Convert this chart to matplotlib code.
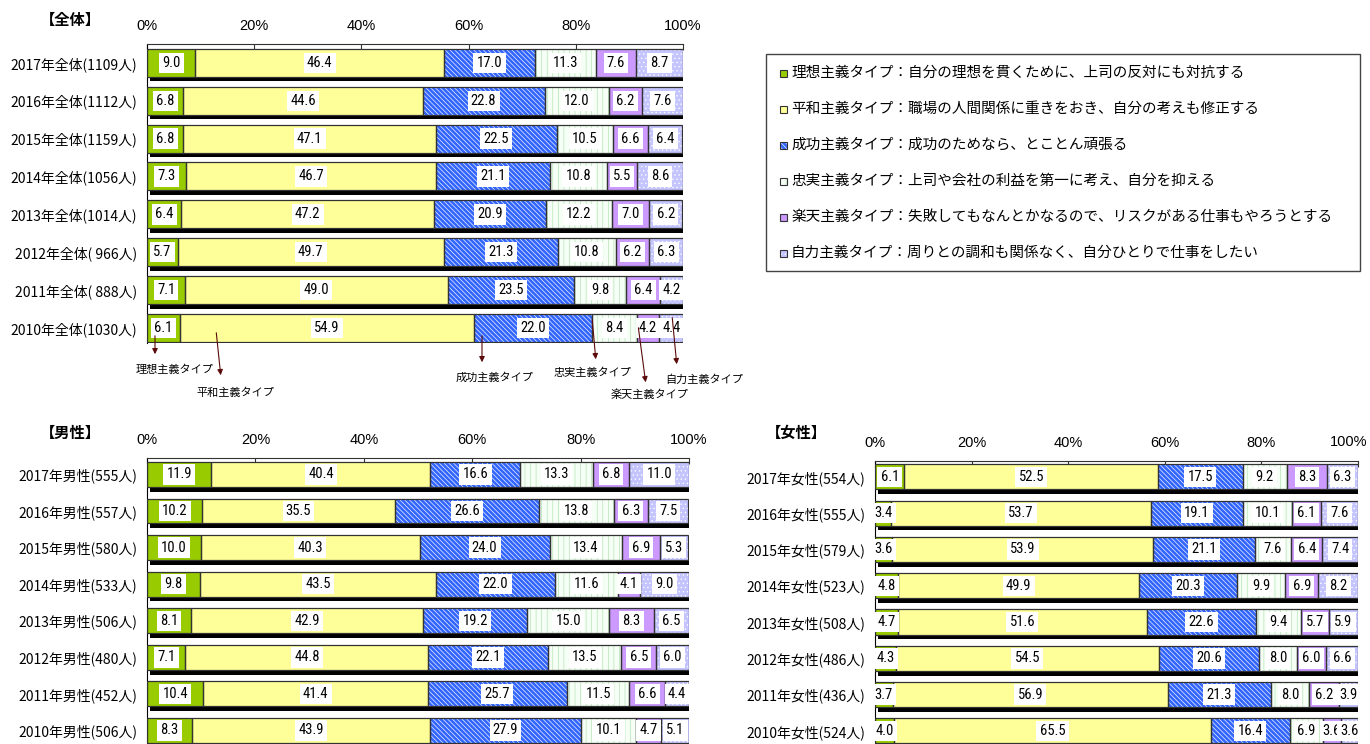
import matplotlib
matplotlib.use('Agg')
import matplotlib.pyplot as plt
from matplotlib.patches import Rectangle, FancyArrowPatch
from matplotlib import font_manager
import numpy as np

plt.rcParams['font.family'] = ['Noto Sans CJK JP', 'DejaVu Sans']
plt.rcParams['hatch.linewidth'] = 0.45

# ---------------- data ----------------
types = ['理想主義タイプ', '平和主義タイプ', '成功主義タイプ', '忠実主義タイプ', '楽天主義タイプ', '自力主義タイプ']
descs = ['自分の理想を貫くために、上司の反対にも対抗する',
         '職場の人間関係に重きをおき、自分の考えも修正する',
         '成功のためなら、とことん頑張る',
         '上司や会社の利益を第一に考え、自分を抑える',
         '失敗してもなんとかなるので、リスクがある仕事もやろうとする',
         '周りとの調和も関係なく、自分ひとりで仕事をしたい']

all_labels = ['2017年全体(1109人)', '2016年全体(1112人)', '2015年全体(1159人)', '2014年全体(1056人)',
              '2013年全体(1014人)', '2012年全体( 966人)', '2011年全体( 888人)', '2010年全体(1030人)']
all_risou = [9.0, 6.8, 6.8, 7.3, 6.4, 5.7, 7.1, 6.1]
all_heiwa = [46.4, 44.6, 47.1, 46.7, 47.2, 49.7, 49.0, 54.9]
all_seikou = [17.0, 22.8, 22.5, 21.1, 20.9, 21.3, 23.5, 22.0]
all_chujitsu = [11.3, 12.0, 10.5, 10.8, 12.2, 10.8, 9.8, 8.4]
all_rakuten = [7.6, 6.2, 6.6, 5.5, 7.0, 6.2, 6.4, 4.2]
all_jiriki = [8.7, 7.6, 6.4, 8.6, 6.2, 6.3, 4.2, 4.4]

male_labels = ['2017年男性(555人)', '2016年男性(557人)', '2015年男性(580人)', '2014年男性(533人)',
               '2013年男性(506人)', '2012年男性(480人)', '2011年男性(452人)', '2010年男性(506人)']
male_risou = [11.9, 10.2, 10.0, 9.8, 8.1, 7.1, 10.4, 8.3]
male_heiwa = [40.4, 35.5, 40.3, 43.5, 42.9, 44.8, 41.4, 43.9]
male_seikou = [16.6, 26.6, 24.0, 22.0, 19.2, 22.1, 25.7, 27.9]
male_chujitsu = [13.3, 13.8, 13.4, 11.6, 15.0, 13.5, 11.5, 10.1]
male_rakuten = [6.8, 6.3, 6.9, 4.1, 8.3, 6.5, 6.6, 4.7]
male_jiriki = [11.0, 7.5, 5.3, 9.0, 6.5, 6.0, 4.4, 5.1]

female_labels = ['2017年女性(554人)', '2016年女性(555人)', '2015年女性(579人)', '2014年女性(523人)',
                 '2013年女性(508人)', '2012年女性(486人)', '2011年女性(436人)', '2010年女性(524人)']
female_risou = [6.1, 3.4, 3.6, 4.8, 4.7, 4.3, 3.7, 4.0]
female_heiwa = [52.5, 53.7, 53.9, 49.9, 51.6, 54.5, 56.9, 65.5]
female_seikou = [17.5, 19.1, 21.1, 20.3, 22.6, 20.6, 21.3, 16.4]
female_chujitsu = [9.2, 10.1, 7.6, 9.9, 9.4, 8.0, 8.0, 6.9]
female_rakuten = [8.3, 6.1, 6.4, 6.9, 5.7, 6.0, 6.2, 3.6]
female_jiriki = [6.3, 7.6, 7.4, 8.2, 5.9, 6.6, 3.9, 3.6]

ticks = [0, 20, 40, 60, 80, 100]
tick_labels = ['0%', '20%', '40%', '60%', '80%', '100%']

# ---------------- styles ----------------
styles = [
    ('#99CC00', None, None),
    ('#FFFF99', None, None),
    ('#3366FF', '\\\\\\\\\\\\\\', '#FFFFFF'),
    ('#F6FFF6', '|||', '#B0E0B0'),
    ('#CC99FF', None, None),
    ('#C4C4FF', '....', '#FFFFFF'),
]
EDGE = '#333333'

# pick a condensed sans font for the value labels if one is installed
NUMPROP = None
NUMSIZE = 9.5
for f in font_manager.fontManager.ttflist:
    if f.name in ('Liberation Sans Narrow', 'Roboto Condensed', 'Open Sans Condensed') and f.weight in (400, 'normal', 'regular') and f.style == 'normal':
        NUMPROP = font_manager.FontProperties(fname=f.fname)
        NUMSIZE = 10.5
        break
if NUMPROP is None:
    for f in font_manager.fontManager.ttflist:
        if f.name == 'DejaVu Sans' and 'Condensed' in f.fname and f.style == 'normal' and f.weight in (400, 'normal'):
            NUMPROP = font_manager.FontProperties(fname=f.fname)
            NUMSIZE = 9.5
            break
if NUMPROP is None:
    NUMPROP = font_manager.FontProperties(family=['Liberation Sans'])
TICKFONT = ['Liberation Sans']

W, H = 1370, 744
fig = plt.figure(figsize=(W / 100, H / 100), dpi=100)


def px_rect(x0, y_top, x1, y_bot):
    return [x0 / W, 1 - y_bot / H, (x1 - x0) / W, (y_bot - y_top) / H]


def draw_chart(ax, labels, series, bar_h, shadow_off, ylim, xlabels):
    n = len(labels)
    y = np.arange(n)
    totals = np.sum(np.array(series), axis=0)
    ax.barh(y + shadow_off, totals, left=0.6, height=bar_h, color='black', linewidth=0, zorder=1)
    left = np.zeros(n)
    for vals, (fc, hatch, hc) in zip(series, styles):
        vals = np.array(vals, dtype=float)
        if hatch:
            ax.barh(y, vals, left=left, height=bar_h, color=fc, edgecolor=hc, hatch=hatch,
                    linewidth=0, zorder=2)
        else:
            ax.barh(y, vals, left=left, height=bar_h, color=fc, linewidth=0, zorder=2)
        ax.barh(y, vals, left=left, height=bar_h, fill=False, edgecolor=EDGE, linewidth=0.9, zorder=3)
        for yi, v, l in zip(y, vals, left):
            ax.text(l + v / 2, yi, f'{v:.1f}', ha='center', va='center', fontsize=NUMSIZE,
                    fontproperties=NUMPROP, zorder=4,
                    bbox=dict(boxstyle='square,pad=0.22', fc='white', ec='none'))
        left += vals
    ax.set_xlim(0, 100)
    ax.set_ylim(*ylim)
    ax.xaxis.tick_top()
    ax.set_xticks(ticks)
    ax.set_xticklabels(xlabels, family=TICKFONT, fontsize=10.5)
    ax.tick_params(axis='x', direction='in', length=4, pad=8, color='#333333')
    ax.set_yticks(y)
    ax.set_yticklabels(labels, fontsize=10)
    ax.tick_params(axis='y', length=0, pad=7)
    for s in ['right', 'bottom']:
        ax.spines[s].set_visible(False)
    ax.spines['top'].set_color('#333333')
    ax.spines['left'].set_color('black')
    ax.set_facecolor('none')
    return ax


# ---------- 全体 ----------
ax_all = fig.add_axes(px_rect(147, 44, 683, 343))
draw_chart(ax_all, all_labels,
           [all_risou, all_heiwa, all_seikou, all_chujitsu, all_rakuten, all_jiriki],
           bar_h=0.74, shadow_off=0.12, ylim=(7.4, -0.5), xlabels=tick_labels)

# ---------- 男性 ----------
ax_m = fig.add_axes(px_rect(147, 458, 689, 744))
draw_chart(ax_m, male_labels,
           [male_risou, male_heiwa, male_seikou, male_chujitsu, male_rakuten, male_jiriki],
           bar_h=0.68, shadow_off=0.13, ylim=(7.37, -0.45), xlabels=tick_labels)

# ---------- 女性 ----------
ax_f = fig.add_axes(px_rect(875, 461, 1358, 744))
draw_chart(ax_f, female_labels,
           [female_risou, female_heiwa, female_seikou, female_chujitsu, female_rakuten, female_jiriki],
           bar_h=0.69, shadow_off=0.13, ylim=(7.36, -0.435), xlabels=tick_labels[:-1] + [''])
# last tick label nudged left so it stays on the canvas
fig.text(1349 / W, 1 - 442 / H, tick_labels[-1], family=TICKFONT, fontsize=10.5,
         ha='center', va='center')

# ---------- titles ----------
fig.text(70 / W, 1 - 20 / H, '【全体】', fontsize=11, weight='bold', ha='center', va='center')
fig.text(70 / W, 1 - 433 / H, '【男性】', fontsize=11, weight='bold', ha='center', va='center')
fig.text(796 / W, 1 - 433 / H, '【女性】', fontsize=11, weight='bold', ha='center', va='center')

# ---------- annotations under 2010 全体 (pixel layout) ----------
ann = [  # tail px, head px, label center px
    ((155, 333), (155, 357), (175, 370)),
    ((216, 330), (221, 378), (235, 393)),
    ((482, 333), (482, 365), (495, 378)),
    ((592, 317), (596, 362), (592, 373)),
    ((638, 325), (646, 385), (650, 395)),
    ((672, 315), (677, 367), (704, 380)),
]
for name, (tail, head, lab) in zip(types, ann):
    fig.add_artist(FancyArrowPatch(
        (tail[0] / W, 1 - tail[1] / H), (head[0] / W, 1 - head[1] / H),
        transform=fig.transFigure, arrowstyle='-|>', mutation_scale=8,
        color='#5A0A0A', lw=0.8, zorder=10))
    fig.text(lab[0] / W, 1 - lab[1] / H, name, fontsize=8, ha='center', va='center')

# ---------- legend box ----------
fig.add_artist(Rectangle((766 / W, 1 - 271 / H), (1360 - 766) / W, (271 - 54) / H,
                         transform=fig.transFigure, fill=False, edgecolor='#444444', lw=1.0))
for i, (name, desc, (fc, hatch, hc)) in enumerate(zip(types, descs, styles)):
    yc = 73 + i * 36
    sq = 7
    if hatch:
        fig.add_artist(Rectangle((780 / W, 1 - (yc + sq / 2) / H), sq / W, sq / H,
                                 transform=fig.transFigure, facecolor=fc, edgecolor=hc,
                                 hatch=hatch, lw=0))
    else:
        fig.add_artist(Rectangle((780 / W, 1 - (yc + sq / 2) / H), sq / W, sq / H,
                                 transform=fig.transFigure, facecolor=fc, lw=0))
    fig.add_artist(Rectangle((780 / W, 1 - (yc + sq / 2) / H), sq / W, sq / H,
                             transform=fig.transFigure, fill=False, edgecolor=EDGE, lw=0.8))
    fig.text(791 / W, 1 - yc / H, f'{name}：{desc}', fontsize=10.5, ha='left', va='center')

fig.savefig('out.png', dpi=100)
